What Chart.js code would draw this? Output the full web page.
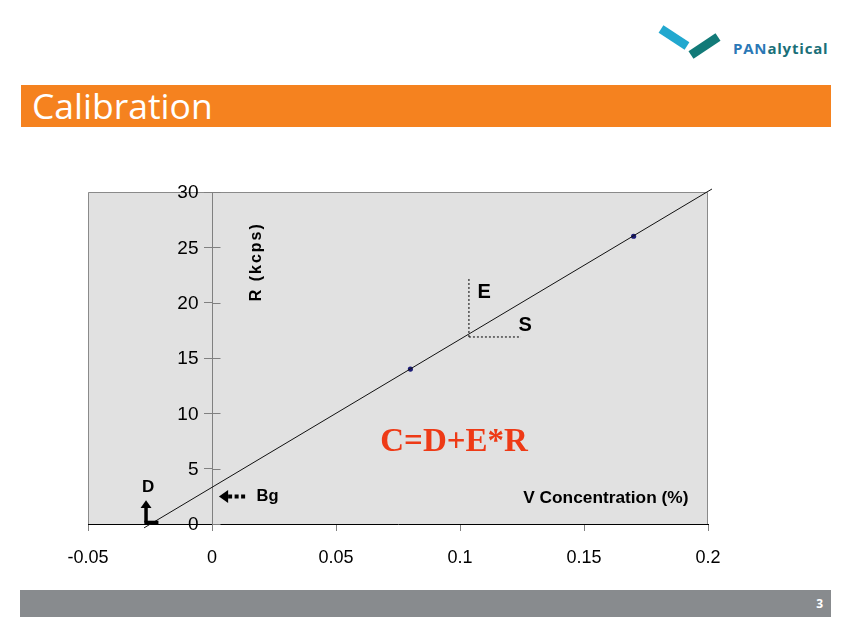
<!DOCTYPE html>
<html><head><meta charset="utf-8">
<script src="https://cdn.jsdelivr.net/npm/chart.js@4.4.1/dist/chart.umd.min.js"></script>
<style>
html,body{margin:0;padding:0;background:#fff;width:851px;height:638px;overflow:hidden;font-family:"Liberation Sans",Arial,sans-serif;}
#title{position:absolute;left:21px;top:85px;width:810px;height:42px;background:#f5821f;}
#title span{position:absolute;left:11px;top:-3px;color:#fff;font-family:"Open Sans",sans-serif;font-size:35.5px;line-height:46px;}
#footer{position:absolute;left:20px;top:590px;width:811px;height:27px;background:#888b8e;}
#footer span{position:absolute;right:8px;top:5px;color:#fff;font-size:12px;font-family:"Open Sans",sans-serif;font-weight:bold;}
#logo{position:absolute;left:0;top:0;}
#wrap{position:absolute;left:0;top:0;width:851px;height:638px;}
</style></head>
<body>
<svg id="logo" width="851" height="80" xmlns="http://www.w3.org/2000/svg">
  <polygon points="663.4,25.2 689.4,42.2 684.6,49.8 658.6,32.8" fill="#22a8cf"/>
  <polygon points="688.5,51.3 715.5,33.3 720.5,40.7 693.5,58.7" fill="#127a78"/>
  <text x="733" y="53.5" font-family="Open Sans, sans-serif" font-size="15" font-weight="bold" letter-spacing="0.8"><tspan fill="#2b78b6">PAN</tspan><tspan fill="#1a6f78">alytical</tspan></text>
</svg>
<div id="title"><span>Calibration</span></div>
<div id="footer"><span>3</span></div>
<div id="wrap"><canvas id="c" width="851" height="638"></canvas></div>
<script>
// ---- data ----
const xTickLabels = ['-0.05', '0', '0.05', '0.1', '0.15', '0.2'];
const yTickLabels = ['0', '5', '10', '15', '20', '25', '30'];
const standardConc = [0.08, 0.17];          // V concentration (%)
const standardRate = [14, 26];              // R (kcps)
const fitConc = [-0.0274, 0.2016];          // calibration line ends
const fitRate = [-0.35, 30.27];
const eGuideConc = [0.1036, 0.1036];        // dotted "E" guide
const eGuideRate = [16.9, 22.3];
const sGuideConc = [0.1036, 0.1246];        // dotted "S" guide
const sGuideRate = [16.9, 16.9];

const pts = (xs, ys) => xs.map((x, i) => ({x: x, y: ys[i]}));

// annotation texts (positioned in data coordinates)
const notes = [
  {text: 'E', x: 0.1097, y: 20.95, font: 'bold 20px "Liberation Sans"', color: '#000'},
  {text: 'S', x: 0.1263, y: 17.95, font: 'bold 20px "Liberation Sans"', color: '#000'},
  {text: 'V Concentration (%)', x: 0.1588, y: 2.3, font: 'bold 17.3px "Liberation Sans"', color: '#000'},
  {text: 'C=D+E*R', x: 0.0976, y: 7.35, font: 'bold 33px "Liberation Serif"', color: '#ee3a16'},
  {text: 'D', x: -0.0258, y: 3.3, font: 'bold 17px "Liberation Sans"', color: '#000'},
  {text: 'Bg', x: 0.0224, y: 2.5, font: 'bold 16.5px "Liberation Sans"', color: '#000'},
  {text: 'R (kcps)', x: 0.0181, y: 23.7, font: 'bold 16px "Liberation Sans"', color: '#000', rotate: true}
];

const deco = {
  id: 'deco',
  beforeDraw(chart) {
    const {ctx, chartArea: a} = chart;
    ctx.save();
    ctx.fillStyle = '#e1e1e1';
    ctx.fillRect(a.left, a.top, a.right - a.left, a.bottom - a.top);
    ctx.strokeStyle = '#8a8a8a';
    ctx.lineWidth = 1;
    ctx.beginPath();
    ctx.moveTo(a.left + 0.5, a.bottom);
    ctx.lineTo(a.left + 0.5, a.top + 0.5);
    ctx.lineTo(a.right - 0.5, a.top + 0.5);
    ctx.lineTo(a.right - 0.5, a.bottom);
    ctx.stroke();
    ctx.restore();
  },
  afterDraw(chart) {
    const {ctx} = chart;
    const xs = chart.scales.x, ys = chart.scales.y;
    const X = v => xs.getPixelForValue(v), Y = v => ys.getPixelForValue(v);
    ctx.save();
    // y-axis: right-hand halves of the cross ticks, and the tick labels left of the axis
    ctx.strokeStyle = '#808080';
    ctx.lineWidth = 1;
    const ax = Math.round(X(0)) + 0.5;
    ctx.font = '19px "Liberation Sans"';
    ctx.fillStyle = '#000';
    ctx.textAlign = 'right';
    ctx.textBaseline = 'middle';
    ys.ticks.forEach((t, i) => {
      const py = Math.round(Y(t.value)) + 0.5;
      ctx.beginPath(); ctx.moveTo(ax, py); ctx.lineTo(ax + 8, py); ctx.stroke();
      ctx.fillText(yTickLabels[i], ax - 14, Y(t.value) + 1);
    });
    // texts
    notes.forEach(n => {
      ctx.save();
      ctx.font = n.font;
      ctx.fillStyle = n.color;
      ctx.textAlign = 'center';
      ctx.textBaseline = 'middle';
      ctx.translate(X(n.x), Y(n.y));
      if (n.rotate) { ctx.rotate(-Math.PI / 2); ctx.letterSpacing = '2px'; }
      ctx.fillText(n.text, 0, 0);
      ctx.restore();
    });
    // D arrow
    ctx.strokeStyle = '#000';
    ctx.fillStyle = '#000';
    ctx.lineWidth = 3.5;
    const dx = X(-0.0266);
    ctx.beginPath(); ctx.moveTo(dx, Y(0.14)); ctx.lineTo(dx, Y(1.6)); ctx.stroke();
    ctx.beginPath(); ctx.moveTo(dx - 1.7, Y(0.14)); ctx.lineTo(X(-0.0216), Y(0.14)); ctx.stroke();
    ctx.beginPath();
    ctx.moveTo(dx, Y(2.15)); ctx.lineTo(dx - 5.5, Y(1.45)); ctx.lineTo(dx + 5.5, Y(1.45)); ctx.closePath(); ctx.fill();
    // Bg arrow
    const by = Y(2.48);
    ctx.beginPath();
    ctx.moveTo(X(0.0028), by); ctx.lineTo(X(0.0065), by - 6.5); ctx.lineTo(X(0.0065), by + 6.5); ctx.closePath(); ctx.fill();
    ctx.lineWidth = 4;
    ctx.setLineDash([4, 2.5]);
    ctx.beginPath(); ctx.moveTo(X(0.0065), by); ctx.lineTo(X(0.0137), by); ctx.stroke();
    ctx.restore();
  }
};

new Chart(document.getElementById('c'), {
  type: 'scatter',
  data: {
    datasets: [
      {label: 'fit', data: pts(fitConc, fitRate), showLine: true, borderColor: '#111', borderWidth: 1, pointRadius: 0, clip: false},
      {label: 'standards', data: pts(standardConc, standardRate), showLine: false, pointRadius: 2.6, backgroundColor: '#1c1c78', borderColor: '#1c1c78', borderWidth: 0},
      {label: 'E', data: pts(eGuideConc, eGuideRate), showLine: true, borderColor: '#000', borderWidth: 1, borderDash: [2, 2], pointRadius: 0},
      {label: 'S', data: pts(sGuideConc, sGuideRate), showLine: true, borderColor: '#000', borderWidth: 1, borderDash: [2, 2], pointRadius: 0}
    ]
  },
  options: {
    responsive: false,
    animation: false,
    events: [],
    layout: {padding: {left: 88, right: 143, top: 192, bottom: 64}},
    plugins: {legend: {display: false}, tooltip: {enabled: false}},
    scales: {
      x: {
        type: 'linear', position: 'bottom', min: -0.05, max: 0.2,
        ticks: {stepSize: 0.05, color: '#000', font: {size: 18, family: '"Liberation Sans"'}, padding: 16, maxRotation: 0, autoSkip: false,
          callback: (v, i) => xTickLabels[i]},
        grid: {display: true, drawOnChartArea: false, drawTicks: true, tickLength: 7, color: '#808080'},
        border: {display: true, color: '#000', width: 1},
        afterFit: s => { s.height = 50; }
      },
      y: {
        type: 'linear', position: {x: 0}, min: 0, max: 30,
        ticks: {display: false, stepSize: 5},
        grid: {display: true, drawOnChartArea: false, drawTicks: true, tickLength: 8, color: '#808080'},
        border: {display: true, color: '#808080', width: 1}
      }
    }
  },
  plugins: [deco]
});
</script>
</body></html>
